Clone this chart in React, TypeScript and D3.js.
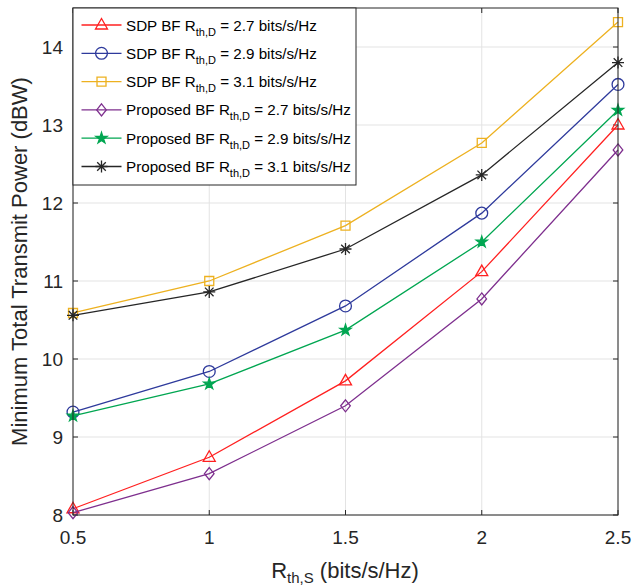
import React from "react";
import * as d3 from "d3";

const xValues = [0.5, 1, 1.5, 2, 2.5];
const xTicks = [0.5, 1, 1.5, 2, 2.5];
const yTicks = [8, 9, 10, 11, 12, 13, 14];

const sdp27 = [8.08, 8.74, 9.72, 11.12, 13.0];
const sdp29 = [9.32, 9.84, 10.68, 11.87, 13.52];
const sdp31 = [10.59, 11.0, 11.71, 12.77, 14.32];
const prop27 = [8.03, 8.53, 9.4, 10.77, 12.68];
const prop29 = [9.27, 9.68, 10.37, 11.5, 13.19];
const prop31 = [10.56, 10.86, 11.41, 12.36, 13.8];

const seriesNames = ["SDP BF", "SDP BF", "SDP BF", "Proposed BF", "Proposed BF", "Proposed BF"];
const seriesRates = ["2.7", "2.9", "3.1", "2.7", "2.9", "3.1"];
const seriesData = [sdp27, sdp29, sdp31, prop27, prop29, prop31];
const seriesColors = ["#FF2020", "#2E3A9C", "#EDB120", "#7E2F8E", "#00A651", "#262626"];
const seriesMarkers = ["triangle", "circle", "square", "diamond", "star", "asterisk"];

const W = 633, H = 586;
const left = 73, right = 618, top = 8, bottom = 515;
const FONT = "'Liberation Sans', Arial, Helvetica, sans-serif";

function markerPath(kind: string): string {
  switch (kind) {
    case "triangle":
      return "M0,-6.5L6,4L-6,4Z";
    case "circle":
      return d3.symbol(d3.symbolCircle, 110)() as string;
    case "square":
      return "M-4.5,-4.5L4.5,-4.5L4.5,4.5L-4.5,4.5Z";
    case "diamond":
      return "M0,-6L4.8,0L0,6L-4.8,0Z";
    case "star":
      return d3.symbol(d3.symbolStar, 38)() as string;
    case "asterisk":
      return "M0,-6L0,6M-6,0L6,0M-4.3,-4.3L4.3,4.3M-4.3,4.3L4.3,-4.3";
  }
  return "";
}

export default function App() {
  const x = d3.scaleLinear().domain([0.5, 2.5]).range([left, right]);
  const y = d3.scaleLinear().domain([8, 14.5]).range([bottom, top]);
  const line = d3
    .line<number>()
    .x((_, i) => x(xValues[i]))
    .y((d) => y(d));

  const axisColor = "#262626";
  const gridColor = "#E3E3E3";
  const tickLen = 5;

  const legX = left, legY = top, legW = 283, legH = 177;
  const rowH = 28.3;

  return (
    <svg width={W} height={H} style={{ position: "absolute", left: 0, top: 0, background: "#fff" }} fontFamily={FONT}>
      <rect x={0} y={0} width={W} height={H} fill="#fff" />
      {xTicks.map((t) => (
        <line key={"gx" + t} x1={x(t)} x2={x(t)} y1={top} y2={bottom} stroke={gridColor} strokeWidth={1} />
      ))}
      {yTicks.map((t) => (
        <line key={"gy" + t} x1={left} x2={right} y1={y(t)} y2={y(t)} stroke={gridColor} strokeWidth={1} />
      ))}
      {xTicks.map((t) => (
        <g key={"tx" + t}>
          <line x1={x(t)} x2={x(t)} y1={bottom} y2={bottom - tickLen} stroke={axisColor} />
          <line x1={x(t)} x2={x(t)} y1={top} y2={top + tickLen} stroke={axisColor} />
          <text x={x(t)} y={544} textAnchor="middle" fontSize={19} fill={axisColor}>
            {t}
          </text>
        </g>
      ))}
      {yTicks.map((t) => (
        <g key={"ty" + t}>
          <line x1={left} x2={left + tickLen} y1={y(t)} y2={y(t)} stroke={axisColor} />
          <line x1={right} x2={right - tickLen} y1={y(t)} y2={y(t)} stroke={axisColor} />
          <text x={63} y={y(t) + 7} textAnchor="end" fontSize={19} fill={axisColor}>
            {t}
          </text>
        </g>
      ))}
      {seriesData.map((s, i) => (
        <g key={"s" + i}>
          <path d={line(s) as string} fill="none" stroke={seriesColors[i]} strokeWidth={1.3} />
          {s.map((v, j) => (
            <path
              key={j}
              d={markerPath(seriesMarkers[i])}
              transform={`translate(${x(xValues[j])},${y(v)})`}
              fill={seriesMarkers[i] === "star" ? seriesColors[i] : "none"}
              stroke={seriesColors[i]}
              strokeWidth={1.3}
            />
          ))}
        </g>
      ))}
      <rect x={left} y={top} width={right - left} height={bottom - top} fill="none" stroke={axisColor} strokeWidth={1} />
      <rect x={legX} y={legY} width={legW} height={legH} fill="#fff" stroke={axisColor} strokeWidth={1} />
      {seriesData.map((_, i) => {
        const cy = legY + 17 + i * rowH;
        return (
          <g key={"l" + i}>
            <line x1={81.5} x2={121.5} y1={cy} y2={cy} stroke={seriesColors[i]} strokeWidth={1.3} />
            <path
              d={markerPath(seriesMarkers[i])}
              transform={`translate(101.5,${cy})`}
              fill={seriesMarkers[i] === "star" ? seriesColors[i] : "none"}
              stroke={seriesColors[i]}
              strokeWidth={1.3}
            />
            <text x={126} y={cy + 5.5} fontSize={15.2} fill="#000">
              {seriesNames[i]} R
              <tspan fontSize={11} dy={5}>th,D</tspan>
              <tspan dy={-5}> = {seriesRates[i]} bits/s/Hz</tspan>
            </text>
          </g>
        );
      })}
      <text
        transform={`translate(27,${(top + bottom) / 2}) rotate(-90)`}
        textAnchor="middle"
        fontSize={22}
        fill={axisColor}
      >
        Minimum Total Transmit Power (dBW)
      </text>
      <text x={345} y={578} textAnchor="middle" fontSize={22} fill={axisColor}>
        R<tspan fontSize={15} dy={5}>th,S</tspan>
        <tspan dy={-5}> (bits/s/Hz)</tspan>
      </text>
    </svg>
  );
}
